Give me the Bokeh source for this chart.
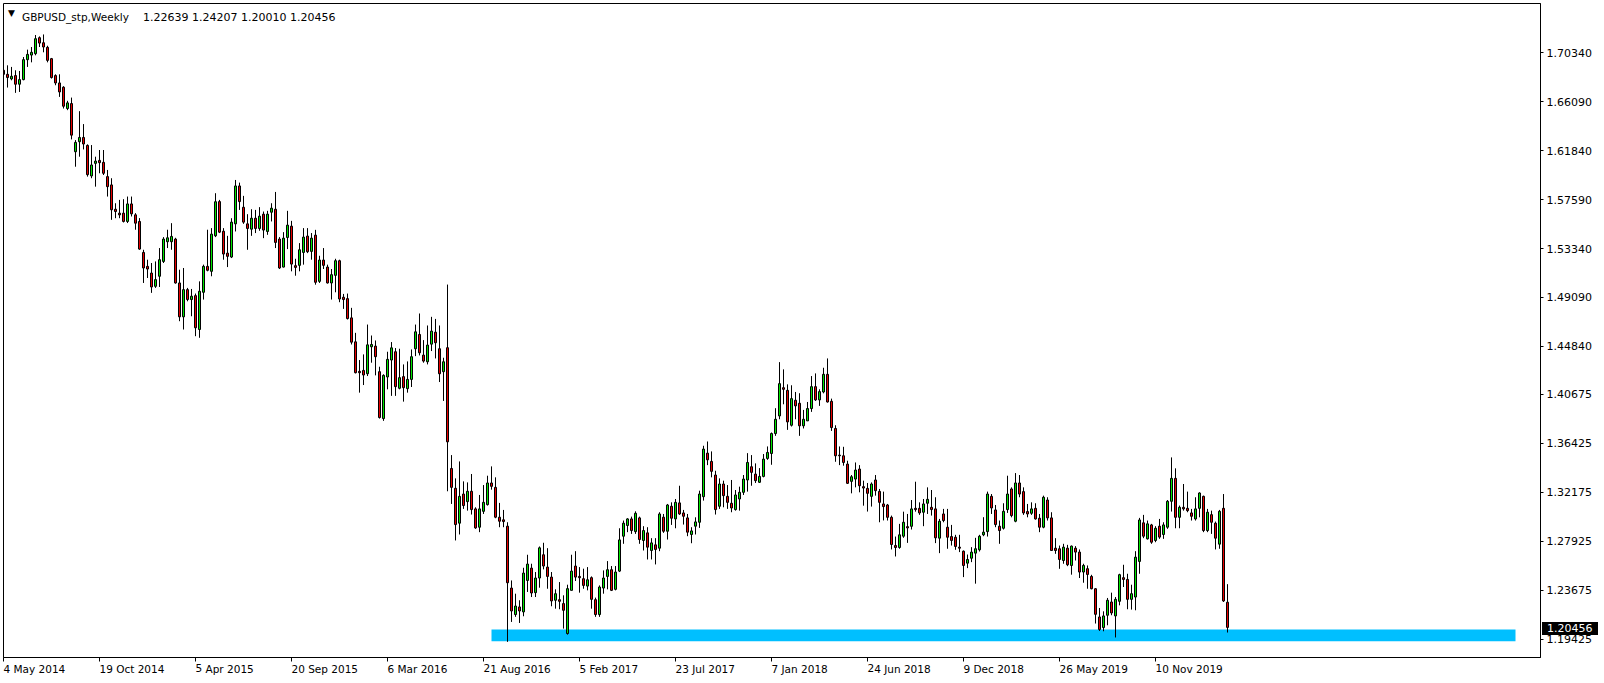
import pandas as pd
from bokeh.plotting import figure
from bokeh.models import Range1d, FixedTicker, Label, PrintfTickFormatter, ColumnDataSource, Div
from bokeh.layouts import column
from bokeh.embed import file_html
from bokeh.resources import INLINE

symbol = "GBPUSD_stp,Weekly"
first_week = "2014-05-04"

opens = [
    1.6881, 1.6846, 1.6806, 1.6835, 1.6760, 1.6800, 1.6973, 1.7013, 1.7025, 1.7164,
    1.7120, 1.7080, 1.6982, 1.6835, 1.6771, 1.6734, 1.6549, 1.6592, 1.6174, 1.6261,
    1.6298, 1.6229, 1.5964, 1.6073, 1.6099, 1.6082, 1.5958, 1.5886, 1.5675, 1.5641,
    1.5641, 1.5569, 1.5721, 1.5626, 1.5569, 1.5300, 1.5179, 1.5121, 1.5006, 1.5093,
    1.5222, 1.5393, 1.5393, 1.5416, 1.5035, 1.4741, 1.4977, 1.4891, 1.4925, 1.4631,
    1.4954, 1.5179, 1.5136, 1.5444, 1.5741, 1.5484, 1.5294, 1.5260, 1.5548, 1.5877,
    1.5692, 1.5548, 1.5502, 1.5597, 1.5508, 1.5632, 1.5482, 1.5649, 1.5675, 1.5416,
    1.5173, 1.5430, 1.5528, 1.5185, 1.5188, 1.5300, 1.5442, 1.5309, 1.5450, 1.5049,
    1.5234, 1.5173, 1.5035, 1.5101, 1.5228, 1.4911, 1.4899, 1.4732, 1.4524, 1.4268,
    1.4276, 1.4247, 1.4481, 1.4487, 1.4265, 1.3858, 1.4219, 1.4366, 1.4438, 1.4121,
    1.4222, 1.4118, 1.4198, 1.4464, 1.4588, 1.4409, 1.4351, 1.4504, 1.4608, 1.4464,
    1.4265, 1.4473, 1.3425, 1.3253, 1.2950, 1.3203, 1.3137, 1.3227, 1.3074, 1.2915,
    1.3053, 1.3111, 1.3299, 1.3261, 1.3002, 1.2979, 1.2924, 1.2387, 1.2157, 1.2223,
    1.2180, 1.2453, 1.2560, 1.2347, 1.2474, 1.2676, 1.2569, 1.2482, 1.2281, 1.2286,
    1.2252, 1.1992, 1.2367, 1.2578, 1.2488, 1.2468, 1.2404, 1.2477, 1.2286, 1.2157,
    1.2387, 1.2488, 1.2546, 1.2376, 1.2534, 1.2837, 1.2930, 1.2987, 1.2877, 1.2996,
    1.2800, 1.2866, 1.2713, 1.2762, 1.2733, 1.3002, 1.2880, 1.3097, 1.2987, 1.3126,
    1.3039, 1.2996, 1.2852, 1.2924, 1.2958, 1.3180, 1.3558, 1.3486, 1.3368, 1.3097,
    1.3290, 1.3183, 1.3123, 1.3068, 1.3160, 1.3218, 1.3325, 1.3440, 1.3376, 1.3305,
    1.3356, 1.3512, 1.3555, 1.3728, 1.3881, 1.4126, 1.4103, 1.3800, 1.4017, 1.3991,
    1.3795, 1.3838, 1.3945, 1.4135, 1.4020, 1.4089, 1.4242, 1.4008, 1.3772, 1.3541,
    1.3535, 1.3463, 1.3313, 1.3333, 1.3420, 1.3267, 1.3252, 1.3183, 1.3325, 1.3226,
    1.3117, 1.3108, 1.3001, 1.2756, 1.2739, 1.2837, 1.2920, 1.2923, 1.3079, 1.3079,
    1.3045, 1.3123, 1.3088, 1.3074, 1.2820, 1.3030, 1.2915, 1.2834, 1.2828, 1.2742,
    1.2707, 1.2603, 1.2646, 1.2690, 1.2719, 1.2849, 1.2877, 1.3183, 1.3065, 1.2924,
    1.2906, 1.3068, 1.3247, 1.2967, 1.3299, 1.3224, 1.3051, 1.3036, 1.3079, 1.2993,
    1.2915, 1.3151, 1.2996, 1.2733, 1.2728, 1.2626, 1.2733, 1.2583, 1.2733, 1.2699,
    1.2526, 1.2555, 1.2488, 1.2381, 1.2136, 1.2044, 1.2151, 1.2266, 1.2145, 1.2272,
    1.2477, 1.2462, 1.2289, 1.2309, 1.2618, 1.2953, 1.2814, 1.2935, 1.2800, 1.2924,
    1.2852, 1.2915, 1.3140, 1.3339, 1.3001, 1.3088, 1.3079, 1.3039, 1.2987, 1.3079,
    1.3183, 1.2886, 1.3024, 1.2950, 1.2768, 1.3079, 1.22639,
]

highs = [
    1.6996, 1.6924, 1.6910, 1.6881, 1.6875, 1.6996, 1.7060, 1.7083, 1.7187, 1.7175,
    1.7192, 1.7094, 1.6988, 1.6846, 1.6846, 1.6743, 1.6616, 1.6644, 1.6275, 1.6526,
    1.6414, 1.6238, 1.6232, 1.6131, 1.6189, 1.6189, 1.6016, 1.5944, 1.5727, 1.5756,
    1.5762, 1.5785, 1.5785, 1.5641, 1.5598, 1.5323, 1.5237, 1.5208, 1.5222, 1.5338,
    1.5433, 1.5497, 1.5554, 1.5427, 1.5150, 1.5165, 1.4992, 1.4983, 1.4943, 1.5049,
    1.5194, 1.5497, 1.5511, 1.5814, 1.5756, 1.5511, 1.5444, 1.5597, 1.5929, 1.5906,
    1.5791, 1.5632, 1.5675, 1.5669, 1.5693, 1.5655, 1.5661, 1.5727, 1.5825, 1.5433,
    1.5476, 1.5661, 1.5574, 1.5245, 1.5381, 1.5511, 1.5511, 1.5468, 1.5496, 1.5271,
    1.5338, 1.5194, 1.5156, 1.5245, 1.5237, 1.4940, 1.4943, 1.4819, 1.4602, 1.4366,
    1.4415, 1.4674, 1.4579, 1.4536, 1.4308, 1.4242, 1.4438, 1.4522, 1.4470, 1.4464,
    1.4328, 1.4354, 1.4458, 1.4674, 1.4770, 1.4539, 1.4666, 1.4741, 1.4723, 1.4666,
    1.4386, 1.5021, 1.3541, 1.3339, 1.3486, 1.3313, 1.3304, 1.3377, 1.3088, 1.3195,
    1.3281, 1.3362, 1.3443, 1.3348, 1.3126, 1.3065, 1.2958, 1.2453, 1.2338, 1.2281,
    1.2563, 1.2676, 1.2598, 1.2526, 1.2748, 1.2780, 1.2733, 1.2526, 1.2376, 1.2439,
    1.2324, 1.2416, 1.2676, 1.2707, 1.2569, 1.2555, 1.2569, 1.2488, 1.2304, 1.2410,
    1.2540, 1.2621, 1.2578, 1.2578, 1.2906, 1.2973, 1.2993, 1.3007, 1.3053, 1.3007,
    1.2924, 1.2915, 1.2820, 1.2820, 1.3045, 1.3030, 1.3117, 1.3131, 1.3160, 1.3275,
    1.3065, 1.3030, 1.2915, 1.3001, 1.3232, 1.3622, 1.3659, 1.3573, 1.3405, 1.3339,
    1.3319, 1.3281, 1.3325, 1.3238, 1.3267, 1.3368, 1.3558, 1.3541, 1.3469, 1.3428,
    1.3550, 1.3616, 1.3737, 1.3948, 1.4348, 1.4285, 1.4155, 1.4147, 1.4089, 1.4078,
    1.3933, 1.4002, 1.4227, 1.4250, 1.4112, 1.4299, 1.4380, 1.4031, 1.3800, 1.3616,
    1.3613, 1.3492, 1.3368, 1.3477, 1.3454, 1.3319, 1.3299, 1.3304, 1.3368, 1.3247,
    1.3224, 1.3117, 1.3016, 1.2834, 1.2944, 1.3050, 1.3030, 1.3151, 1.3310, 1.3131,
    1.3160, 1.3261, 1.3238, 1.3175, 1.2987, 1.3074, 1.3074, 1.2935, 1.2849, 1.2849,
    1.2713, 1.2678, 1.2742, 1.2823, 1.2849, 1.3002, 1.3224, 1.3203, 1.3108, 1.2973,
    1.3123, 1.3362, 1.3261, 1.3385, 1.3368, 1.3261, 1.3117, 1.3131, 1.3123, 1.3030,
    1.3189, 1.3175, 1.3045, 1.2820, 1.2756, 1.2771, 1.2762, 1.2756, 1.2751, 1.2722,
    1.2598, 1.2583, 1.2502, 1.2387, 1.2214, 1.2185, 1.2301, 1.2347, 1.2309, 1.2511,
    1.2589, 1.2511, 1.2416, 1.2707, 1.2996, 1.3022, 1.2973, 1.2944, 1.2924, 1.2987,
    1.2958, 1.3151, 1.3521, 1.3426, 1.3103, 1.3290, 1.3224, 1.3074, 1.3175, 1.3218,
    1.3189, 1.3074, 1.3059, 1.2964, 1.3065, 1.3203, 1.24207,
]

lows = [
    1.6818, 1.6731, 1.6794, 1.6685, 1.6693, 1.6794, 1.6910, 1.6950, 1.7011, 1.7083,
    1.7037, 1.6950, 1.6809, 1.6751, 1.6650, 1.6549, 1.6535, 1.6281, 1.6044, 1.6131,
    1.6194, 1.5958, 1.5944, 1.5871, 1.5987, 1.5972, 1.5785, 1.5583, 1.5597, 1.5597,
    1.5560, 1.5555, 1.5612, 1.5497, 1.5323, 1.5035, 1.5078, 1.4949, 1.4992, 1.5000,
    1.5208, 1.5338, 1.5323, 1.5029, 1.4703, 1.4631, 1.4876, 1.4746, 1.4573, 1.4559,
    1.4891, 1.5136, 1.5093, 1.5433, 1.5468, 1.5237, 1.5173, 1.5251, 1.5482, 1.5669,
    1.5548, 1.5323, 1.5444, 1.5468, 1.5488, 1.5424, 1.5453, 1.5569, 1.5338, 1.5156,
    1.5170, 1.5329, 1.5136, 1.5098, 1.5136, 1.5194, 1.5294, 1.5237, 1.5020, 1.5035,
    1.5156, 1.5030, 1.4891, 1.4954, 1.4868, 1.4810, 1.4718, 1.4501, 1.4250, 1.4083,
    1.4149, 1.4227, 1.4343, 1.4233, 1.3858, 1.3838, 1.4112, 1.4055, 1.4055, 1.4112,
    1.4005, 1.4083, 1.4132, 1.4400, 1.4406, 1.4343, 1.4328, 1.4444, 1.4380, 1.4175,
    1.4011, 1.3227, 1.3117, 1.2800, 1.2852, 1.3074, 1.3059, 1.3025, 1.2901, 1.2872,
    1.3030, 1.3103, 1.3241, 1.2993, 1.2915, 1.2915, 1.1920, 1.2093, 1.2137, 1.2084,
    1.2142, 1.2353, 1.2309, 1.2309, 1.2390, 1.2549, 1.2381, 1.2229, 1.2208, 1.2203,
    1.2035, 1.1983, 1.2367, 1.2448, 1.2347, 1.2381, 1.2367, 1.2208, 1.2137, 1.2137,
    1.2338, 1.2376, 1.2361, 1.2367, 1.2526, 1.2771, 1.2872, 1.2857, 1.2857, 1.2771,
    1.2713, 1.2635, 1.2635, 1.2592, 1.2707, 1.2866, 1.2808, 1.2935, 1.2906, 1.3022,
    1.2938, 1.2837, 1.2776, 1.2852, 1.2909, 1.3146, 1.3454, 1.3348, 1.3025, 1.3074,
    1.3088, 1.3074, 1.3045, 1.3059, 1.3059, 1.3195, 1.3224, 1.3275, 1.3299, 1.3299,
    1.3348, 1.3500, 1.3457, 1.3708, 1.3852, 1.3982, 1.3760, 1.3789, 1.3852, 1.3708,
    1.3772, 1.3838, 1.3916, 1.4011, 1.3968, 1.4077, 1.3997, 1.3751, 1.3483, 1.3454,
    1.3449, 1.3290, 1.3209, 1.3261, 1.3218, 1.3102, 1.3051, 1.3094, 1.3189, 1.2958,
    1.2974, 1.2973, 1.2722, 1.2661, 1.2728, 1.2823, 1.2779, 1.2895, 1.3050, 1.3022,
    1.2924, 1.3030, 1.3016, 1.2777, 1.2690, 1.2958, 1.2728, 1.2756, 1.2719, 1.2699,
    1.2482, 1.2560, 1.2612, 1.2425, 1.2704, 1.2837, 1.2834, 1.3030, 1.2915, 1.2771,
    1.2895, 1.3039, 1.3001, 1.2958, 1.3175, 1.3022, 1.3001, 1.3022, 1.2981, 1.2872,
    1.2906, 1.2973, 1.2710, 1.2684, 1.2554, 1.2598, 1.2577, 1.2503, 1.2626, 1.2474,
    1.2433, 1.2381, 1.2376, 1.2079, 1.2015, 1.2012, 1.2064, 1.2151, 1.1958, 1.2237,
    1.2396, 1.2203, 1.2200, 1.2194, 1.2511, 1.2820, 1.2808, 1.2771, 1.2785, 1.2814,
    1.2814, 1.2901, 1.3051, 1.2906, 1.2906, 1.3059, 1.3045, 1.2973, 1.2973, 1.3001,
    1.2872, 1.2872, 1.2857, 1.2722, 1.2728, 1.2266, 1.20010,
]

closes = [
    1.6846, 1.6818, 1.6829, 1.6760, 1.6800, 1.6973, 1.7019, 1.7037, 1.7155, 1.7117,
    1.7083, 1.6967, 1.6818, 1.6771, 1.6693, 1.6569, 1.6598, 1.6318, 1.6255, 1.6298,
    1.6241, 1.5975, 1.6059, 1.6093, 1.6079, 1.5987, 1.5871, 1.5670, 1.5655, 1.5626,
    1.5569, 1.5721, 1.5635, 1.5554, 1.5329, 1.5165, 1.5156, 1.5000, 1.5064, 1.5237,
    1.5416, 1.5427, 1.5439, 1.5035, 1.4741, 1.4977, 1.4891, 1.4920, 1.4646, 1.4963,
    1.5179, 1.5145, 1.5459, 1.5740, 1.5476, 1.5286, 1.5266, 1.5563, 1.5877, 1.5741,
    1.5563, 1.5508, 1.5597, 1.5508, 1.5615, 1.5494, 1.5632, 1.5684, 1.5387, 1.5165,
    1.5424, 1.5537, 1.5199, 1.5170, 1.5323, 1.5433, 1.5306, 1.5424, 1.5041, 1.5234,
    1.5188, 1.5035, 1.5107, 1.5228, 1.4896, 1.4891, 1.4726, 1.4521, 1.4256, 1.4256,
    1.4236, 1.4498, 1.4501, 1.4395, 1.3867, 1.4233, 1.4372, 1.4472, 1.4135, 1.4213,
    1.4126, 1.4198, 1.4395, 1.4611, 1.4429, 1.4357, 1.4496, 1.4617, 1.4516, 1.4247,
    1.4351, 1.3656, 1.3261, 1.2938, 1.3183, 1.3103, 1.3227, 1.3068, 1.2909, 1.3074,
    1.3131, 1.3299, 1.3270, 1.3002, 1.2967, 1.2964, 1.2433, 1.2188, 1.2231, 1.2188,
    1.2517, 1.2595, 1.2344, 1.2474, 1.2736, 1.2578, 1.2488, 1.2275, 1.2338, 1.2272,
    1.2194, 1.2382, 1.2534, 1.2482, 1.2477, 1.2410, 1.2459, 1.2289, 1.2157, 1.2396,
    1.2474, 1.2546, 1.2367, 1.2526, 1.2805, 1.2950, 1.2987, 1.2886, 1.3036, 1.2808,
    1.2886, 1.2742, 1.2779, 1.2722, 1.3030, 1.2880, 1.3108, 1.2993, 1.3131, 1.3030,
    1.3010, 1.2872, 1.2883, 1.2961, 1.3203, 1.3593, 1.3500, 1.3400, 1.3068, 1.3290,
    1.3189, 1.3131, 1.3082, 1.3195, 1.3218, 1.3333, 1.3477, 1.3391, 1.3319, 1.3356,
    1.3506, 1.3564, 1.3728, 1.3852, 1.4161, 1.4112, 1.3829, 1.4031, 1.3968, 1.3795,
    1.3852, 1.3945, 1.4135, 1.4020, 1.4092, 1.4242, 1.4002, 1.3780, 1.3535, 1.3535,
    1.3477, 1.3296, 1.3353, 1.3411, 1.3275, 1.3255, 1.3209, 1.3290, 1.3232, 1.3131,
    1.3094, 1.3001, 1.2765, 1.2739, 1.2849, 1.2958, 1.2909, 1.3074, 1.3068, 1.3039,
    1.3117, 1.3157, 1.3068, 1.2823, 1.2967, 1.2973, 1.2828, 1.2800, 1.2748, 1.2733,
    1.2583, 1.2635, 1.2699, 1.2728, 1.2837, 1.2872, 1.3203, 1.3082, 1.2938, 1.2886,
    1.3053, 1.3203, 1.3016, 1.3299, 1.3203, 1.3039, 1.3030, 1.3074, 1.2987, 1.2915,
    1.3175, 1.2996, 1.2713, 1.2713, 1.2635, 1.2742, 1.2589, 1.2751, 1.2699, 1.2526,
    1.2583, 1.2505, 1.2381, 1.2159, 1.2027, 1.2145, 1.2281, 1.2171, 1.2289, 1.2503,
    1.2462, 1.2289, 1.2338, 1.2655, 1.2978, 1.2837, 1.2944, 1.2785, 1.2906, 1.2829,
    1.2935, 1.3140, 1.3339, 1.3001, 1.3088, 1.3074, 1.3059, 1.3010, 1.3074, 1.3212,
    1.2886, 1.3045, 1.2958, 1.2820, 1.3053, 1.2275, 1.20456,
]

label_dates = ["2014-05-04", "2014-10-19", "2015-04-05", "2015-09-20", "2016-03-06",
               "2016-08-21", "2017-02-05", "2017-07-23", "2018-01-07", "2018-06-24",
               "2018-12-09", "2019-05-26", "2019-11-10"]
price_ticks = [1.70340, 1.66090, 1.61840, 1.57590, 1.53340, 1.49090, 1.44840,
               1.40675, 1.36425, 1.32175, 1.27925, 1.23675, 1.19425]

zone_from = "2016-09-04"
zone_to = "2021-08-01"
zone_top = 1.2027
zone_bottom = 1.1925

BULL = "#00E600"
BEAR = "#E60000"
ZONE = "#00BFFF"
FONT = "DejaVu Sans"

n = len(closes)
assert len(opens) == len(highs) == len(lows) == n
t0 = pd.Timestamp(first_week)
def week_index(d):
    return (pd.Timestamp(d) - t0).days / 7.0

idx = list(range(n))
src = ColumnDataSource(dict(
    x=idx, h=highs, l=lows,
    top=[max(o, c) for o, c in zip(opens, closes)],
    bottom=[min(o, c) for o, c in zip(opens, closes)],
    color=[BULL if c >= o else BEAR for o, c in zip(opens, closes)],
))

W, H = 1604, 683
BL, BT, BR, BB = 3, 3, 64, 24
FW, FH = W - BL - BR, H - BT - BB
PX_PER_WEEK = 4.0
X0 = (BL - 3.0) / PX_PER_WEEK
X1 = X0 + FW / PX_PER_WEEK
Y_TOP, Y_BOT = 1.74606, 1.17842

p = figure(width=W, height=H, output_backend="svg", toolbar_location=None,
           x_range=Range1d(X0, X1), y_range=Range1d(Y_BOT, Y_TOP),
           y_axis_location="right",
           min_border_left=BL, min_border_top=BT, min_border_right=BR, min_border_bottom=BB,
           background_fill_color="white", border_fill_color="white")
p.xgrid.visible = False
p.ygrid.visible = False
p.outline_line_color = "black"
p.outline_line_width = 1

p.quad(left=[week_index(zone_from)], right=[week_index(zone_to)],
       top=[zone_top], bottom=[zone_bottom], fill_color=ZONE, line_color=None)

p.segment(x0="x", y0="l", x1="x", y1="h", source=src, line_color="black", line_width=1)
p.vbar(x="x", width=0.5, top="top", bottom="bottom", source=src,
       fill_color="color", line_color="black", line_width=1)

tick_pos = [week_index(d) for d in label_dates]
tick_txt = {}
for d, tp in zip(label_dates, tick_pos):
    ts = pd.Timestamp(d)
    tick_txt[tp] = f"{ts.day} {ts.strftime('%b %Y')}"
xa = p.xaxis[0]
xa.ticker = FixedTicker(ticks=tick_pos)
xa.major_label_overrides = tick_txt
xa.major_label_orientation = -0.0001   # near-horizontal: labels start at their tick
xa.major_label_text_font = FONT
xa.major_label_text_font_size = "10.5px"
xa.major_label_text_color = "black"
xa.major_label_standoff = 7
xa.major_tick_out = 4
xa.major_tick_in = 0
xa.minor_tick_line_color = None
xa.axis_line_color = "black"
xa.major_tick_line_color = "black"

ya = p.yaxis[0]
ya.ticker = FixedTicker(ticks=price_ticks)
ya.formatter = PrintfTickFormatter(format="%.5f")
ya.major_label_text_font = FONT
ya.major_label_text_font_size = "11px"
ya.major_label_text_color = "black"
ya.major_label_standoff = 3
ya.major_tick_out = 3
ya.major_tick_in = 0
ya.minor_tick_line_color = None
ya.axis_line_color = "black"
ya.major_tick_line_color = "black"

def px_x(px):
    return X0 + (px - BL) / PX_PER_WEEK
def px_y(py):
    return Y_TOP - (py - BT) * (Y_TOP - Y_BOT) / FH

p.add_layout(Label(x=px_x(11), y=px_y(13), text="\u25BC", text_font=FONT,
                   text_font_size="9px", text_color="black",
                   text_align="center", text_baseline="middle"))
p.add_layout(Label(x=px_x(21.5), y=px_y(16.7), text=symbol, text_font=FONT,
                   text_font_size="10.5px", text_color="black",
                   text_align="left", text_baseline="alphabetic"))
p.add_layout(Label(x=px_x(142.5), y=px_y(16.7),
                   text=f"{opens[-1]:.5f} {highs[-1]:.5f} {lows[-1]:.5f} {closes[-1]:.5f}",
                   text_font=FONT, text_font_size="11px", text_color="black",
                   text_align="left", text_baseline="alphabetic"))

price_cy = BT + (Y_TOP - closes[-1]) / (Y_TOP - Y_BOT) * FH
price_box = Div(text=f"{closes[-1]:.5f}", width=56, height=13, margin=0,
                styles={"position": "absolute",
                        "left": f"{BL + FW + 2}px", "top": f"{round(price_cy - 6.5)}px",
                        "background-color": "black", "color": "white",
                        "font-family": FONT, "font-size": "11px", "line-height": "13px",
                        "padding-left": "5px", "box-sizing": "border-box",
                        "overflow": "hidden", "z-index": "10"})

root = column(p, price_box)
open("out.html", "w").write(file_html(root, INLINE, title=symbol))
